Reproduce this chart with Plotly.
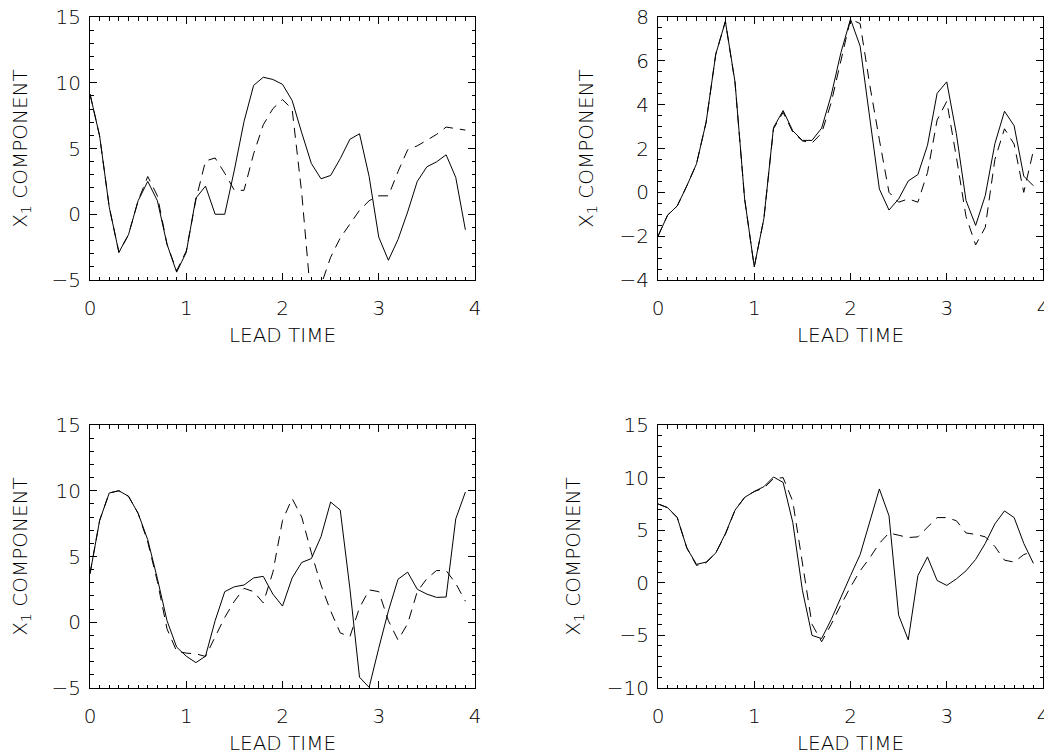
import plotly.graph_objects as go

lead_time = [round(0.1 * i, 1) for i in range(40)]

# Panel 1 (top-left)
p1_solid = [9.14, 5.95, 0.54, -2.9, -1.55, 1.03, 2.5, 1.03, -2.28, -4.4,
            -2.9, 1.23, 2.14, 0.0, 0.0, 3.37, 7.05, 9.8, 10.42, 10.25,
            9.88, 8.65, 6.19, 3.86, 2.7, 2.95, 4.23, 5.7, 6.12, 2.87,
            -1.74, -3.5, -1.92, 0.17, 2.5, 3.61, 3.98, 4.52, 2.8, -1.18]
p1_dash = [9.14, 5.95, 0.54, -2.9, -1.55, 1.03, 2.87, 1.4, -2.28, -4.3,
           -2.8, 1.1, 4.05, 4.28, 3.12, 1.82, 1.82, 4.6, 6.8, 8.03,
           8.72, 8.0, 1.6, -6.8, -5.4, -3.27, -1.8, -0.7, 0.3, 1.03,
           1.4, 1.4, 3.24, 4.9, 5.2, 5.63, 6.07, 6.63, 6.5, 6.4]

# Panel 2 (top-right)
p2_solid = [-2.0, -1.04, -0.62, 0.3, 1.3, 3.2, 6.3, 7.8, 5.04, -0.3,
            -3.4, -1.2, 2.96, 3.73, 2.81, 2.37, 2.37, 2.93, 4.44, 6.37,
            7.9, 6.67, 3.4, 0.15, -0.81, -0.3, 0.52, 0.81, 2.15, 4.52,
            5.04, 2.67, -0.37, -1.51, -0.15, 2.22, 3.7, 3.04, 0.74, 0.3]
p2_dash = [-2.0, -1.04, -0.62, 0.3, 1.3, 3.2, 6.3, 7.8, 5.0, -0.3,
           -3.4, -1.2, 2.9, 3.65, 2.75, 2.35, 2.25, 2.7, 4.1, 6.0,
           7.9, 7.7, 4.9, 2.4, 0.0, -0.45, -0.3, -0.45, 0.9, 3.3,
           4.15, 1.6, -1.1, -2.4, -1.6, 1.5, 2.9, 2.2, 0.0, 1.9]

# Panel 3 (bottom-left)
p3_solid = [3.69, 7.74, 9.83, 10.0, 9.58, 8.28, 6.27, 3.32, 0.12, -1.89,
            -2.58, -3.07, -2.58, 0.12, 2.33, 2.7, 2.83, 3.37, 3.49, 2.14,
            1.23, 3.37, 4.55, 4.84, 6.51, 9.14, 8.53, 2.58, -4.18, -4.95,
            -1.97, 0.86, 3.27, 3.81, 2.51, 2.14, 1.89, 1.92, 7.86, 9.9]
p3_dash = [3.69, 7.74, 9.83, 10.0, 9.58, 8.28, 6.1, 3.1, -0.5, -2.2,
           -2.35, -2.4, -2.6, -1.1, 0.37, 1.6, 2.58, 2.33, 1.47, 3.8,
           7.74, 9.41, 7.99, 5.28, 2.83, 0.86, -0.81, -1.1, 1.1, 2.46,
           2.33, 0.12, -1.35, -0.12, 2.33, 3.32, 3.93, 3.93, 2.95, 1.6]

# Panel 4 (bottom-right)
p4_solid = [7.5, 7.14, 6.2, 3.3, 1.75, 1.97, 2.83, 4.68, 6.9, 8.12,
            8.68, 9.14, 10.06, 9.54, 5.75, -0.7, -5.0, -5.3, -3.48, -1.32,
            0.68, 2.68, 5.75, 8.92, 6.37, -3.08, -5.42, 0.68, 2.46, 0.22,
            -0.25, 0.37, 1.14, 2.22, 3.75, 5.6, 6.83, 6.2, 3.75, 1.85]
p4_dash = [7.5, 7.14, 6.2, 3.3, 1.65, 1.9, 2.83, 4.6, 6.9, 8.12,
           8.68, 9.0, 9.9, 10.0, 7.75, 1.9, -3.94, -5.6, -3.94, -2.1,
           -0.4, 1.14, 2.37, 3.75, 4.74, 4.52, 4.3, 4.37, 5.3, 6.2,
           6.2, 5.9, 4.74, 4.6, 4.37, 3.45, 2.15, 1.97, 2.68, 3.0]

x_title = "LEAD TIME"
y_title = "X<sub>1</sub> COMPONENT"

panels = [
    (p1_solid, p1_dash, [-5, 15], 5, 1),
    (p2_solid, p2_dash, [-4, 8], 2, 0.5),
    (p3_solid, p3_dash, [-5, 15], 5, 1),
    (p4_solid, p4_dash, [-10, 15], 5, 1),
]

# page body has an 8px margin, so the figure is shifted by 8px
OFF = 8
W, H = 1052 - OFF, 756 - OFF
xdoms = [[(90 - OFF) / W, (475 - OFF) / W], [(658 - OFF) / W, (1043 - OFF) / W]]
ydoms = [[1 - (280 - OFF) / H, 1 - (17 - OFF) / H], [1 - (688 - OFF) / H, 1 - (425 - OFF) / H]]

FONT = dict(family="DejaVu Sans", size=20, color="black", weight=200)

fig = go.Figure()
layout = dict(
    width=W, height=H, margin=dict(l=0, r=0, t=0, b=0, autoexpand=False),
    paper_bgcolor="white", plot_bgcolor="white", showlegend=False,
    font=FONT,
)

for k, (solid, dash, yr, ydt, yminor) in enumerate(panels):
    row, col = divmod(k, 2)
    xa = "x" if k == 0 else f"x{k+1}"
    ya = "y" if k == 0 else f"y{k+1}"
    fig.add_trace(go.Scatter(x=lead_time, y=solid, mode="lines", xaxis=xa, yaxis=ya,
                             line=dict(color="black", width=1), cliponaxis=True))
    fig.add_trace(go.Scatter(x=lead_time, y=dash, mode="lines", xaxis=xa, yaxis=ya,
                             line=dict(color="black", width=1, dash="10px,7px"), cliponaxis=True))
    xkey = "xaxis" if k == 0 else f"xaxis{k+1}"
    ykey = "yaxis" if k == 0 else f"yaxis{k+1}"
    layout[xkey] = dict(
        domain=xdoms[col], anchor=ya, range=[0, 4], dtick=1, tick0=0, automargin=False,
        showgrid=False, zeroline=False, showline=True, linecolor="black", linewidth=1,
        mirror="allticks", ticks="inside", ticklen=7, tickcolor="black", tickwidth=1,
        minor=dict(dtick=0.1, ticks="inside", ticklen=3.5, tickcolor="black", tickwidth=1, showgrid=False),
        ticklabelstandoff=10, ticklabeloverflow="allow",
        title=dict(text=x_title, standoff=8, font=FONT),
        tickfont=FONT,
    )
    layout[ykey] = dict(
        domain=ydoms[row], anchor=xa, range=yr, dtick=ydt, tick0=0, automargin=False,
        showgrid=False, zeroline=False, showline=True, linecolor="black", linewidth=1,
        mirror="allticks", ticks="inside", ticklen=7, tickcolor="black", tickwidth=1,
        minor=dict(dtick=yminor, ticks="inside", ticklen=3.5, tickcolor="black", tickwidth=1, showgrid=False),
        ticklabelstandoff=4, ticklabeloverflow="allow",
        title=dict(text=y_title, standoff=20, font=FONT),
        tickfont=FONT,
    )

fig.update_layout(**layout)
fig.write_html("out.html")
